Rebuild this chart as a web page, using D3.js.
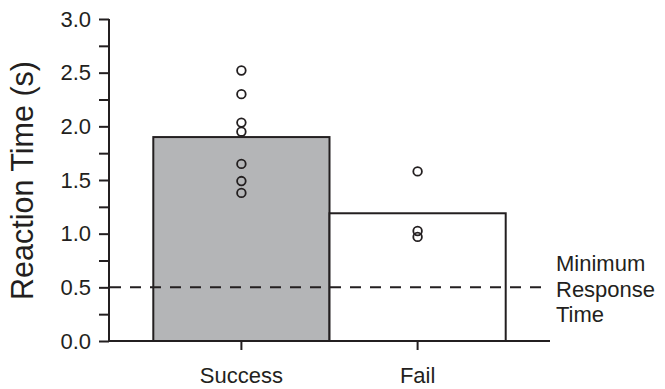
<!DOCTYPE html>
<html>
<head>
<meta charset="utf-8">
<script src="https://cdn.jsdelivr.net/npm/d3@7"></script>
<style>
  html, body { margin: 0; padding: 0; background: #fff; }
  svg { display: block; font-family: "Liberation Sans", Arial, Helvetica, sans-serif; }
</style>
</head>
<body>
<svg id="chart" width="665" height="389"></svg>
<script>
// Mean reaction time per outcome, with individual trials overlaid
const categories = ["Success", "Fail"];
const barValues = [1.9, 1.19];
const successTrials = [2.52, 2.30, 2.035, 1.95, 1.65, 1.49, 1.38];
const failTrials = [1.58, 1.025, 0.97];
const yTicks = [0, 0.5, 1.0, 1.5, 2.0, 2.5, 3.0];
const yMinorTicks = [0.25, 0.75, 1.25, 1.75, 2.25, 2.75];
const thresholdValue = 0.5;
const thresholdLabel = ["Minimum", "Response", "Time"];
const yTitle = "Reaction Time (s)";

const ink = "#231f20";
const labelFont = "22px";
const svg = d3.select("#chart");

const axisX = 109, axisEndX = 550;
const y = d3.scaleLinear().domain([0, 3]).range([341, 19]);
const x = d3.scaleBand().domain(categories).range([153.3, 505.7]).padding(0);

// Bars
svg.append("g").selectAll("rect")
  .data(categories)
  .join("rect")
  .attr("x", d => x(d))
  .attr("y", (d, i) => y(barValues[i]))
  .attr("width", x.bandwidth())
  .attr("height", (d, i) => y(0) - y(barValues[i]))
  .attr("fill", (d, i) => i === 0 ? "#b4b5b7" : "#ffffff")
  .attr("stroke", ink)
  .attr("stroke-width", 2);

// Minimum response time threshold
svg.append("line")
  .attr("x1", axisX).attr("x2", 548)
  .attr("y1", y(thresholdValue)).attr("y2", y(thresholdValue))
  .attr("stroke", ink)
  .attr("stroke-width", 2)
  .attr("stroke-dasharray", "11,9")
  .attr("stroke-dashoffset", -1);

svg.append("text")
  .attr("fill", ink)
  .style("font-size", labelFont)
  .selectAll("tspan")
  .data(thresholdLabel)
  .join("tspan")
  .attr("x", 556)
  .attr("y", (d, i) => 271 + i * 25.5)
  .text(d => d);

// Individual trials
const trials = [
  ...successTrials.map(v => ({ cat: "Success", v })),
  ...failTrials.map(v => ({ cat: "Fail", v }))
];
svg.append("g").selectAll("circle")
  .data(trials)
  .join("circle")
  .attr("cx", d => x(d.cat) + x.bandwidth() / 2)
  .attr("cy", d => y(d.v))
  .attr("r", 4.3)
  .attr("fill", "none")
  .attr("stroke", ink)
  .attr("stroke-width", 1.8);

// Y axis
const yAxis = svg.append("g")
  .attr("transform", `translate(${axisX},0)`)
  .call(d3.axisLeft(y).tickValues(yTicks).tickFormat(d3.format(".1f")).tickSize(10).tickPadding(8));
yAxis.select(".domain").attr("stroke", ink).attr("stroke-width", 2).attr("d", `M0,${y(3)}V${y(0)}`);
yAxis.selectAll(".tick line").attr("stroke", ink).attr("stroke-width", 2);
yAxis.selectAll(".tick text")
  .attr("fill", ink)
  .style("font-size", labelFont)
  .style("font-family", "'Liberation Sans', Arial, sans-serif");

svg.append("g")
  .attr("transform", `translate(${axisX},0)`)
  .call(d3.axisLeft(y).tickValues(yMinorTicks).tickFormat("").tickSize(10))
  .call(g => g.select(".domain").remove())
  .selectAll(".tick line").attr("stroke", ink).attr("stroke-width", 2);

// X axis
svg.append("line")
  .attr("x1", axisX - 1).attr("x2", axisEndX)
  .attr("y1", y(0)).attr("y2", y(0))
  .attr("stroke", ink).attr("stroke-width", 2);

const xAxis = svg.append("g")
  .attr("transform", `translate(0,${y(0)})`)
  .call(d3.axisBottom(x).tickSize(9).tickPadding(17));
xAxis.select(".domain").remove();
xAxis.selectAll(".tick line").attr("stroke", ink).attr("stroke-width", 2);
xAxis.selectAll(".tick text")
  .attr("fill", ink)
  .style("font-size", labelFont)
  .style("font-family", "'Liberation Sans', Arial, sans-serif");

// Y title
svg.append("text")
  .attr("transform", `translate(33,180.5) rotate(-90)`)
  .attr("text-anchor", "middle")
  .attr("fill", ink)
  .style("font-size", "30.5px")
  .text(yTitle);
</script>
</body>
</html>
